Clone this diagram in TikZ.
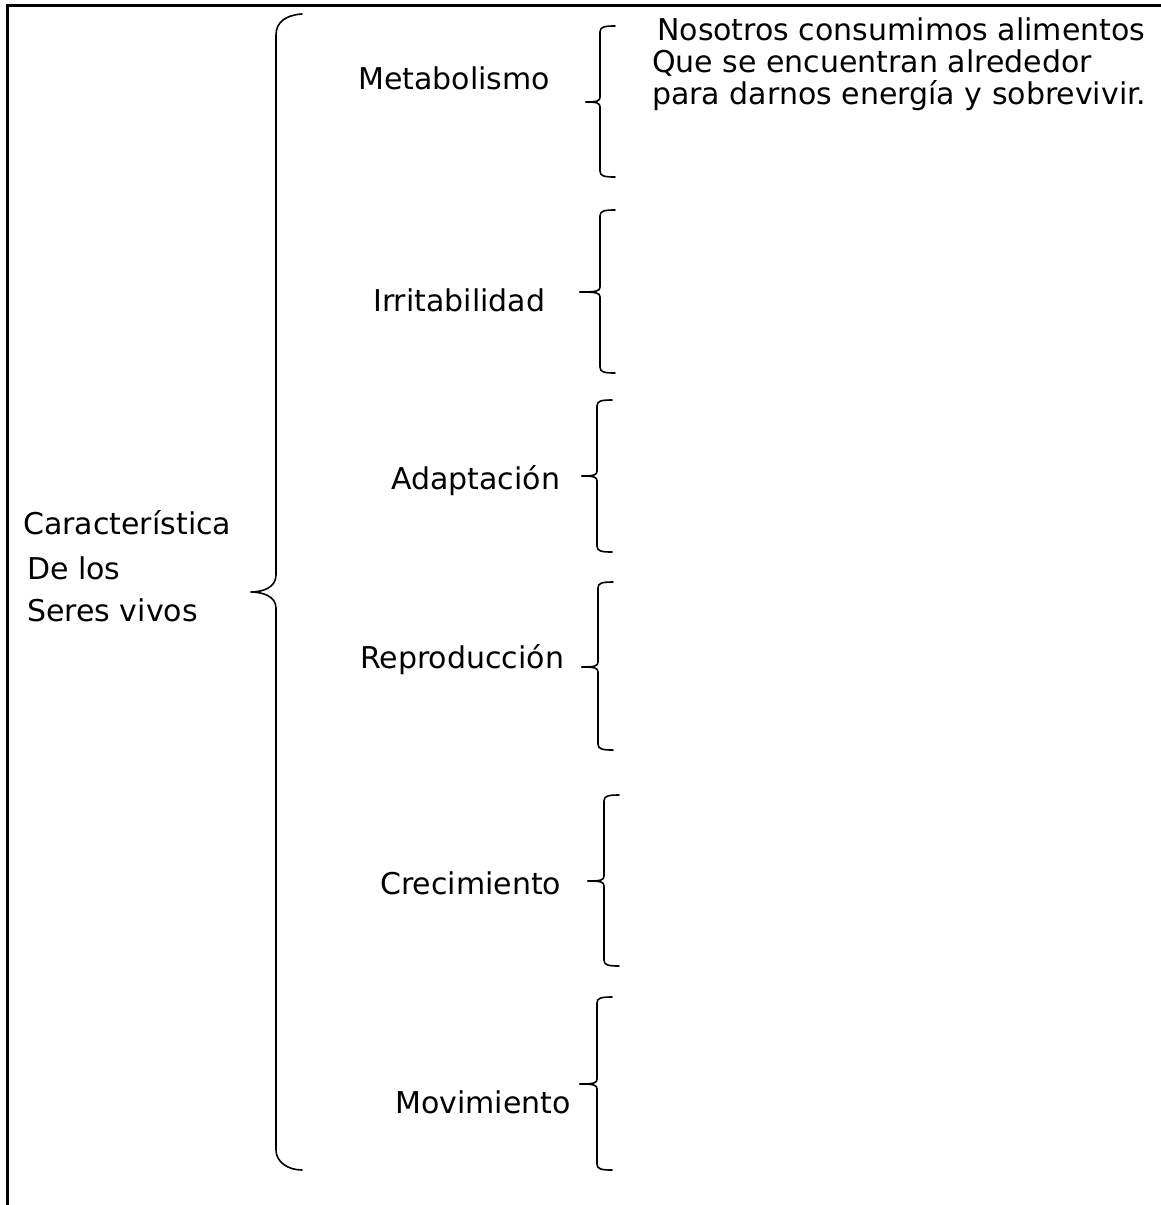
\documentclass[tikz,border=0pt]{standalone}
\usepackage{fontspec}
\setmainfont{DejaVu Sans}
\newcommand\mybrk[5]{%
  \draw[br] ({#1+15},#2) .. controls ({#1+4},#2) and (#1,{#2+1}) .. (#1,{#2+6})
    -- (#1,{#4-5}) .. controls (#1,{#4-1}) and ({#1-3},#4) .. (#5,#4);
  \draw[br] (#5,#4) .. controls ({#1-3},#4) and (#1,{#4+1}) .. (#1,{#4+5})
    -- (#1,{#3-6}) .. controls (#1,{#3-1}) and ({#1+4},#3) .. ({#1+15},#3);
}
\begin{document}
\begin{tikzpicture}[x=1pt,y=-1pt,
  lbl/.style={anchor=base west, inner sep=0pt, font=\fontsize{30}{34}\selectfont},
  br/.style={line width=1.6pt, line cap=round, line join=round},
  frame/.style={line width=3pt}]
\useasboundingbox (0,0) rectangle (1161,1205);
\fill[white] (0,0) rectangle (1161,1205);
\draw[frame] (7,1205) -- (7,5.5) -- (1161,5.5);
% big brace
\draw[br] (302,14) .. controls (286,15) and (276,22) .. (276,35)
  -- (276,575) .. controls (276,588) and (262,592) .. (251,592)
  .. controls (262,592) and (276,596) .. (276,608)
  -- (276,1150) .. controls (276,1162) and (288,1170) .. (302,1170);
% small brackets
\mybrk{600}{26}{177}{102}{586}
\mybrk{600}{210}{373}{292}{580}
\mybrk{597}{400}{552}{476}{582}
\mybrk{598}{582}{750}{667}{582}
\mybrk{604}{795}{966}{881}{588}
\mybrk{597}{997}{1170}{1084}{580}
% left labels
\node[lbl] (c1) at (23,534) {Característica};
\node[lbl] (c2) at (27,579) {De los};
\node[lbl] (c3) at (27,621) {Seres vivos};
% middle labels
\node[lbl] (m1) at (358,89) {Metabolismo};
\node[lbl] (m2) at (373,311) {Irritabilidad};
\node[lbl] (m3) at (391,489) {Adaptación};
\node[lbl] (m4) at (360,668) {Reproducción};
\node[lbl] (m5) at (380,894) {Crecimiento};
\node[lbl] (m6) at (395,1113) {Movimiento};
% right text
\node[lbl] (p1) at (657,40) {Nosotros consumimos alimentos};
\node[lbl] (p2) at (652,72) {Que se encuentran alrededor};
\node[lbl] (p3) at (652,104) {para darnos energía y sobrevivir.};
\end{tikzpicture}
\end{document}
